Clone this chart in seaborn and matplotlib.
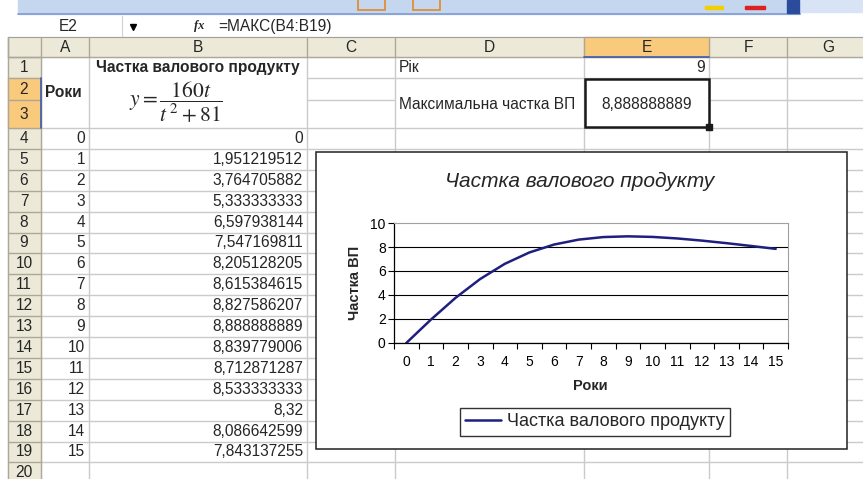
import numpy as np
import matplotlib
matplotlib.use('Agg')
import matplotlib.pyplot as plt
from matplotlib.patches import Rectangle
import seaborn as sns

# data from the sheet (column A = years, column B = share of gross product)
years = list(range(16))
share = [0, 1.951219512, 3.764705882, 5.333333333, 6.597938144, 7.547169811,
         8.205128205, 8.615384615, 8.827586207, 8.888888889, 8.839779006,
         8.712871287, 8.533333333, 8.32, 8.086642599, 7.843137255]

col_letters = ['A', 'B', 'C', 'D', 'E', 'F', 'G']
series_name = 'Частка валового продукту'
formula_text = '=МАКС(B4:B19)'

# sheet geometry in pixels
W, H = 863, 479
col_edges = [8, 41, 89, 307, 395, 584, 709, 787, 870]
row_edges = [57, 78, 100, 128] + [128 + 20.9 * k for k in range(1, 18)]

header_bg = '#ECE9D8'
header_line = '#ACA899'
select_bg = '#F9C97C'
select_line = '#3A5CB0'
grid_col = '#CBCBCB'
navy = '#1F1F80'
sheet_fs = 11.2

sns.set_theme(style='white')
plt.rcParams['font.family'] = ['Liberation Sans', 'DejaVu Sans']


def fmt(v):
    s = f'{v:.9f}'.rstrip('0').rstrip('.')
    return s.replace('.', ',')


def row_mid(r):
    return (row_edges[r - 1] + row_edges[r]) / 2


fig = plt.figure(figsize=(W / 100, H / 100), dpi=100)
bg = fig.add_axes([0, 0, 1, 1])
bg.set_xlim(0, W)
bg.set_ylim(H, 0)
bg.axis('off')

# toolbar strip
bg.add_patch(Rectangle((18, 0), 782, 14, color='#C5D6EF', zorder=1))
bg.plot([18, 800], [14, 14], color='#7E9BD2', lw=1.2, zorder=2)
bg.add_patch(Rectangle((800, 0), 70, 12, color='#D8E4F5', zorder=1))
bg.add_patch(Rectangle((787, 0), 12, 13, color='#2B4C9B', zorder=2))
for x0 in [358, 413]:
    bg.add_patch(Rectangle((x0, -2), 27, 12, fill=False, edgecolor='#E08A2A', lw=1.2, zorder=2))
bg.add_patch(Rectangle((705, 6), 18, 3, color='#F2D000', zorder=2))
bg.add_patch(Rectangle((745, 6), 20, 3, color='#E02020', zorder=2))

# formula bar
bg.plot([8, W], [36.5, 36.5], color='#A0A0A0', lw=0.8)
bg.plot([122, 122], [16, 36], color='#D0D0D0', lw=0.8)
bg.text(68, 26, 'E2', ha='center', va='center', fontsize=sheet_fs)
bg.plot([133], [27], marker='v', color='black', markersize=5)
bg.text(199, 26, 'fx', ha='center', va='center', fontsize=9, style='italic',
        fontweight='bold', family=['Liberation Serif', 'DejaVu Serif'])
bg.text(218, 26, formula_text, ha='left', va='center', fontsize=sheet_fs)

# column headers
bg.add_patch(Rectangle((8, 37), W - 8, 20, color=header_bg, zorder=1))
bg.add_patch(Rectangle((col_edges[5], 37), col_edges[6] - col_edges[5], 20, color=select_bg, zorder=1))
for x in col_edges[:-1]:
    bg.plot([x, x], [37, 57], color=header_line, lw=1, zorder=2)
bg.plot([8, W], [57, 57], color=header_line, lw=1, zorder=2)
bg.plot([col_edges[5], col_edges[6]], [56.5, 56.5], color=select_line, lw=1.2, zorder=3)
for i, name in enumerate(col_letters):
    bg.text((col_edges[i + 1] + col_edges[i + 2]) / 2, 47, name, ha='center', va='center',
            fontsize=sheet_fs, zorder=3)

# row headers
bg.add_patch(Rectangle((8, 57), 33, H - 57, color=header_bg, zorder=1))
bg.add_patch(Rectangle((8, 78), 33, 50, color=select_bg, zorder=1))
for y in row_edges:
    bg.plot([8, 41], [y, y], color=header_line, lw=1, zorder=2)
bg.plot([8, 8], [37, H], color=header_line, lw=1, zorder=2)
bg.plot([41, 41], [57, H], color=header_line, lw=1, zorder=2)
bg.plot([40.5, 40.5], [78, 128], color=select_line, lw=1.2, zorder=3)
for r in range(1, len(row_edges)):
    bg.text(24, row_mid(r), str(r), ha='center', va='center', fontsize=sheet_fs, zorder=3)

# cell gridlines (merged cells A1:A3, B1:B3, D2:D3, E2:E3 keep no inner lines)
for x in col_edges[2:-1]:
    bg.plot([x, x], [57, H], color=grid_col, lw=1, zorder=1)
for y in row_edges[1:]:
    if y in (78, 100):
        bg.plot([307, 395], [y, y], color=grid_col, lw=1, zorder=1)
        bg.plot([709, W], [y, y], color=grid_col, lw=1, zorder=1)
        if y == 78:
            bg.plot([395, 709], [y, y], color=grid_col, lw=1, zorder=1)
    else:
        bg.plot([41, W], [y, y], color=grid_col, lw=1, zorder=1)

# cell contents
bg.text(45, 92, 'Роки', ha='left', va='center', fontsize=sheet_fs, fontweight='bold')
bg.text(198, row_mid(1), series_name, ha='center', va='center', fontsize=sheet_fs, fontweight='bold')
bg.text(176, 102, r'$y=\dfrac{160t}{t^{\,2}+81}$', ha='center', va='center', fontsize=15.5,
        math_fontfamily='stix')
for i, (yr, v) in enumerate(zip(years, share)):
    r = 4 + i
    bg.text(col_edges[2] - 4, row_mid(r), str(yr), ha='right', va='center', fontsize=sheet_fs)
    bg.text(col_edges[3] - 4, row_mid(r), fmt(v), ha='right', va='center', fontsize=sheet_fs)

best = int(np.argmax(share))
bg.text(col_edges[4] + 4, row_mid(1), 'Рік', ha='left', va='center', fontsize=sheet_fs)
bg.text(col_edges[6] - 4, row_mid(1), str(years[best]), ha='right', va='center', fontsize=sheet_fs)
bg.text(col_edges[4] + 4, 104, 'Максимальна частка ВП', ha='left', va='center', fontsize=sheet_fs)
bg.text((col_edges[5] + col_edges[6]) / 2, 104, fmt(share[best]), ha='center', va='center',
        fontsize=sheet_fs)
bg.add_patch(Rectangle((584.5, 79), 124, 48, fill=False, edgecolor='#1A1A1A', lw=1.8, zorder=5))
bg.add_patch(Rectangle((706, 124), 6, 6, color='#1A1A1A', zorder=6))

# embedded chart
bg.add_patch(Rectangle((316, 152), 531, 297, facecolor='white', edgecolor='#202020', lw=1.1, zorder=10))
bg.text(580, 181, series_name, ha='center', va='center', fontsize=15, style='italic', zorder=11)

ax = fig.add_axes([394 / W, 1 - 343 / H, 394 / W, 120 / H])
sns.lineplot(x=years, y=share, ax=ax, color=navy, linewidth=1.8, label=series_name)
ax.set_xlim(-0.5, 15.5)
ax.set_ylim(0, 10)
ax.set_xticks(years)
ax.set_xticks(np.arange(-0.5, 16, 1), minor=True)
ax.set_yticks(range(0, 11, 2))
ax.tick_params(axis='both', which='both', bottom=True, left=True, colors='black')
ax.tick_params(axis='x', which='major', length=0, pad=9, labelsize=10)
ax.tick_params(axis='x', which='minor', length=4, width=0.8, direction='out')
ax.tick_params(axis='y', length=4, width=0.8, direction='out', labelsize=10, pad=2)
ax.yaxis.grid(True, color='black', lw=0.8)
ax.get_ygridlines()[-1].set_visible(False)
for side in ['left', 'bottom']:
    ax.spines[side].set_color('black')
    ax.spines[side].set_linewidth(0.9)
for side in ['top', 'right']:
    ax.spines[side].set_color('#A0A0A0')
    ax.spines[side].set_linewidth(0.8)
ax.set_ylabel('Частка ВП', fontsize=10.5, fontweight='bold')
ax.yaxis.set_label_coords(-0.08, 0.5)
ax.set_xlabel('Роки', fontsize=10.5, fontweight='bold')
ax.xaxis.set_label_coords(0.497, -0.30)
leg = ax.legend(loc='center', bbox_to_anchor=(0.51, -0.658), frameon=True, fancybox=False,
                edgecolor='black', fontsize=13, handlelength=2.0, borderpad=0.3,
                handletextpad=0.3)
leg.get_frame().set_linewidth(1.0)

fig.savefig('out.png', dpi=100)
